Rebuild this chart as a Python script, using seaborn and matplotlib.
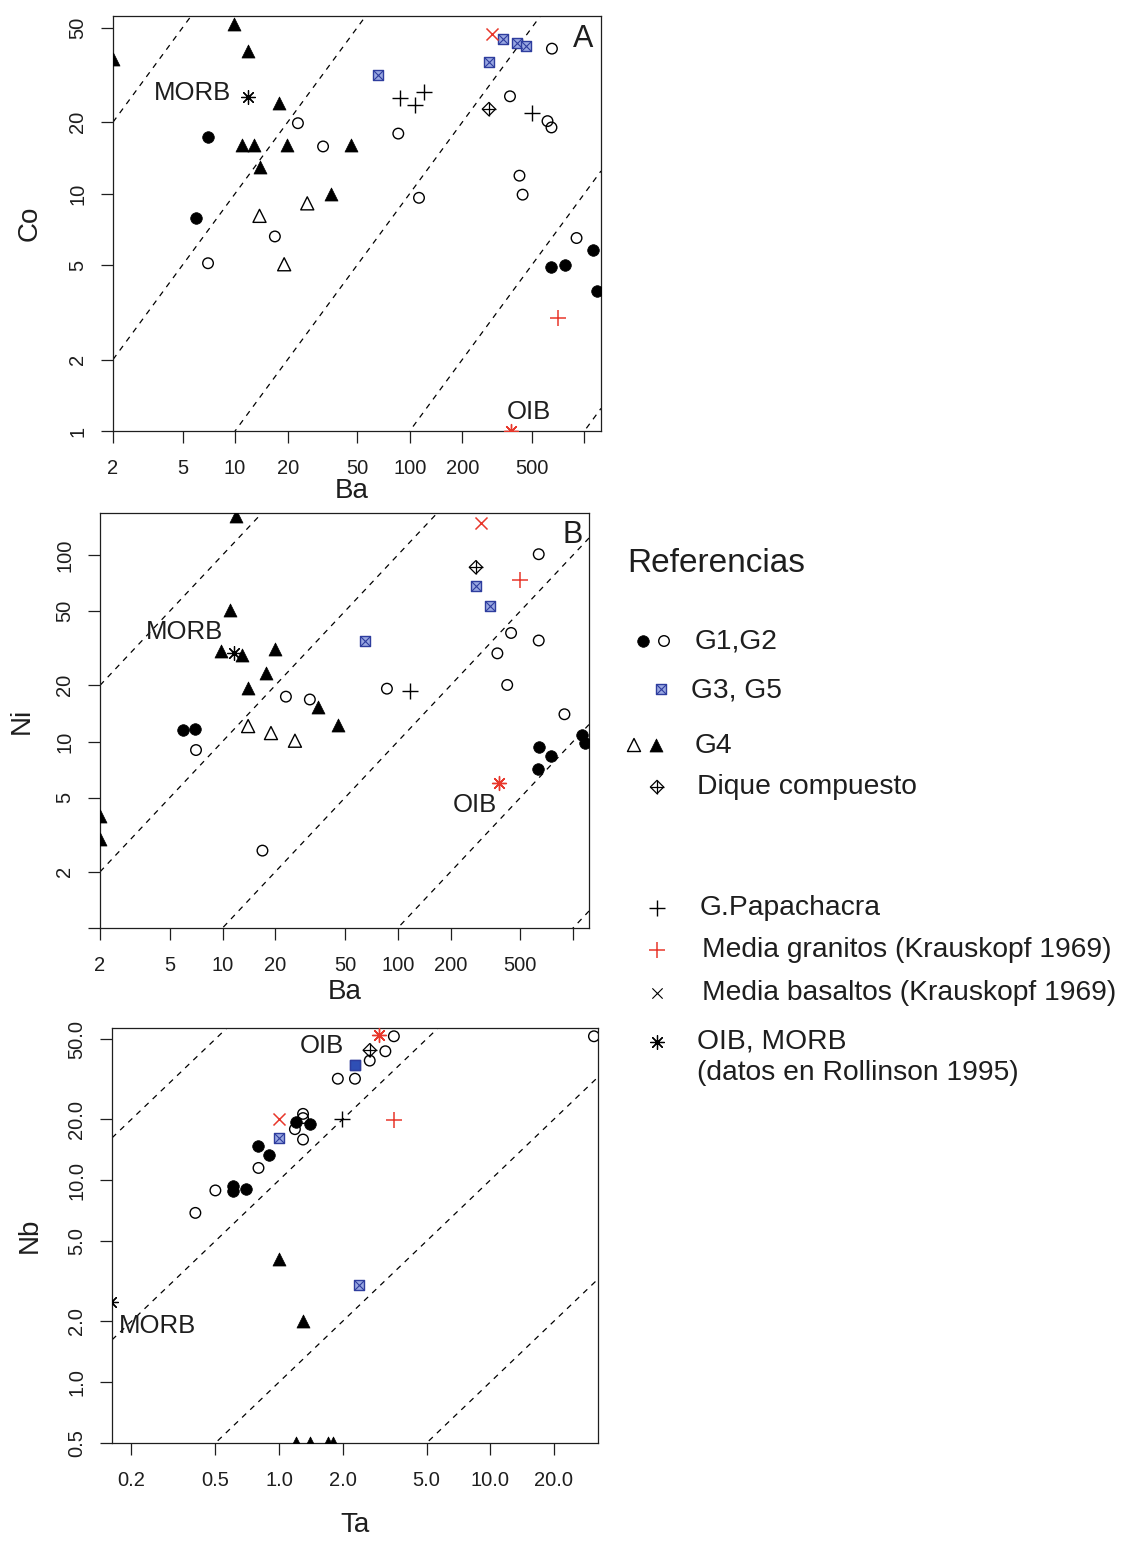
import numpy as np
import pandas as pd
import matplotlib
matplotlib.use("Agg")
import matplotlib.pyplot as plt
from matplotlib.ticker import NullLocator
import seaborn as sns

# ---------------- DATA ----------------
# Panel A: Ba (x) vs Co (y)
A_g1_x = [6.98, 5.97, 641, 771, 1122, 1183]
A_g1_y = [17.4, 7.9, 4.93, 5.0, 5.8, 3.9]
A_g2_x = [22.9, 31.9, 86, 113, 16.9, 7.0, 652, 375, 615, 648, 425, 443, 902]
A_g2_y = [19.8, 15.8, 17.9, 9.6, 6.6, 5.09, 40.8, 25.7, 20.2, 19.0, 11.9, 9.9, 6.5]
A_g35_x = [65.9, 341, 410, 461, 284]
A_g35_y = [31.6, 45, 42.9, 41.9, 35.9]
A_g4o_x = [13.8, 25.9, 19.1]
A_g4o_y = [8.06, 9.1, 5.04]
A_g4f_x = [9.9, 2.0, 11.9, 17.9, 11.0, 12.9, 19.9, 45.9, 13.8, 35.4]
A_g4f_y = [52, 36.8, 40, 24, 16.0, 16.0, 16.0, 16.0, 13.0, 10.0]
A_dique_x = [284]
A_dique_y = [22.7]
A_papa_x = [88, 107, 120, 499]
A_papa_y = [25.3, 23.7, 26.7, 21.8]
A_gran_x = [702]
A_gran_y = [2.98]
A_bas_x = [297]
A_bas_y = [47.2]
A_oib_x = [380]
A_oib_y = [1.0]
A_morb_x = [11.8]
A_morb_y = [25.6]

# Panel B: Ba (x) vs Ni (y)
B_g1_x = [5.96, 6.95, 1125, 1172, 637, 750, 634]
B_g1_y = [11.5, 11.7, 10.8, 9.8, 9.4, 8.4, 7.08]
B_g2_x = [637, 443, 637, 370, 421, 86.7, 23.0, 31.5, 893, 7.06, 16.9]
B_g2_y = [101, 38.2, 34.8, 29.7, 20.1, 19.2, 17.4, 16.8, 14.0, 9.0, 2.6]
B_g35_x = [279, 337, 64.7]
B_g35_y = [68.5, 53.5, 34.8]
B_g4o_x = [14.0, 18.9, 25.9]
B_g4o_y = [12.1, 11.1, 10.1]
B_g4f_x = [12.0, 10.97, 9.85, 12.99, 19.9, 17.7, 14.0, 34.9, 45.8, 2.0, 2.0]
B_g4f_y = [162, 50.9, 30.4, 29.1, 31.4, 23.2, 19.3, 15.3, 12.2, 4.0, 3.0]
B_dique_x = [279]
B_dique_y = [86]
B_papa_x = [118]
B_papa_y = [18.7]
B_gran_x = [495]
B_gran_y = [73.8]
B_bas_x = [298]
B_bas_y = [148]
B_oib_x = [376]
B_oib_y = [5.98]
B_morb_x = [11.7]
B_morb_y = [29.7]

# Panel C: Ta (x) vs Nb (y)
C_g1_x = [1.20, 1.40, 0.80, 0.90, 0.605, 0.605, 0.70]
C_g1_y = [19.4, 18.9, 14.7, 13.4, 9.34, 8.82, 9.09]
C_g2_x = [3.50, 31, 3.19, 2.69, 1.90, 2.29, 1.30, 1.30, 1.19, 1.30, 0.80, 0.5, 0.402]
C_g2_y = [51.6, 51.6, 43.5, 39.1, 31.8, 31.8, 21.3, 20.3, 17.9, 15.9, 11.5, 8.9, 6.89]
C_g35_x = [2.29, 1.0, 2.39]
C_g35_y = [37.1, 16.2, 3.02]
C_g4o_x = []
C_g4o_y = []
C_g4f_x = [1.0, 1.30, 1.20, 1.40, 1.71, 1.80]
C_g4f_y = [4.08, 2.02, 0.5, 0.5, 0.5, 0.5]
C_dique_x = [2.69]
C_dique_y = [44]
C_papa_x = [1.99]
C_papa_y = [20]
C_gran_x = [3.5]
C_gran_y = [19.8]
C_bas_x = [1.0]
C_bas_y = [20]
C_oib_x = [2.99]
C_oib_y = [52.6]
C_morb_x = [0.16]
C_morb_y = [2.5]

# reference ratio lines (y/x)
A_ratios = [10, 1, 0.1, 0.01, 0.001]
B_ratios = [10, 1, 0.1, 0.01, 0.001]
C_ratios = [100, 10, 1, 0.1]

# axis ticks
A_xticks = [2, 5, 10, 20, 50, 100, 200, 500, 1000]
A_xticklabels = ["2", "5", "10", "20", "50", "100", "200", "500", ""]
A_yticks = [1, 2, 5, 10, 20, 50]
A_yticklabels = ["1", "2", "5", "10", "20", "50"]
B_xticks = A_xticks
B_xticklabels = A_xticklabels
B_yticks = [1, 2, 5, 10, 20, 50, 100]
B_yticklabels = ["", "2", "5", "10", "20", "50", "100"]
C_xticks = [0.2, 0.5, 1.0, 2.0, 5.0, 10.0, 20.0]
C_xticklabels = ["0.2", "0.5", "1.0", "2.0", "5.0", "10.0", "20.0"]
C_yticks = [0.5, 1.0, 2.0, 5.0, 10.0, 20.0, 50.0]
C_yticklabels = ["0.5", "1.0", "2.0", "5.0", "10.0", "20.0", "50.0"]

LEGEND_TITLE = "Referencias"
LEGEND_LABELS = ["G1,G2", "G3, G5", "G4", "Dique compuesto", "G.Papachacra",
                 "Media granitos (Krauskopf 1969)", "Media basaltos (Krauskopf 1969)",
                 "OIB, MORB\n(datos en Rollinson 1995)"]

# ---------------- STYLE ----------------
sns.set_theme(style="ticks")
plt.rcParams["font.family"] = ["Liberation Sans", "DejaVu Sans"]
plt.rcParams["axes.linewidth"] = 0.9
plt.rcParams["xtick.major.width"] = 0.9
plt.rcParams["ytick.major.width"] = 0.9

RED = "#e8372b"
BLUE = "#2e3d9e"
BLUEFACE = "#9aa8e2"
ASTER = (8, 2, 0)
INK = "#1e1e1e"

STY = {
    "g1": dict(marker="o", s=70, color="black", edgecolor="black", linewidth=0.5),
    "g2": dict(marker="o", s=58, color="black", facecolor="none", edgecolor="black", linewidth=1.0),
    "g4o": dict(marker="^", s=88, color="black", facecolor="none", edgecolor="black", linewidth=1.0),
    "g4f": dict(marker="^", s=88, color="black", edgecolor="black", linewidth=0.5),
    "papa": dict(marker="+", s=120, color="black", linewidth=1.0),
    "gran": dict(marker="+", s=120, color=RED, linewidth=1.1),
    "bas": dict(marker="x", s=75, color=RED, linewidth=1.1),
    "oib": dict(marker=ASTER, s=100, color=RED, linewidth=1.0),
    "morb": dict(marker=ASTER, s=100, color="black", linewidth=0.9),
}


def scat(ax, x, y, key):
    if len(x) == 0:
        return
    sns.scatterplot(x=x, y=y, ax=ax, legend=False, zorder=3, **STY[key])


def square_x(ax, x, y, s=56):
    if len(x) == 0:
        return
    sns.scatterplot(x=x, y=y, ax=ax, legend=False, marker="s", s=s, color=BLUEFACE,
                    facecolor=BLUEFACE, edgecolor=BLUE, linewidth=1.0, zorder=3)
    sns.scatterplot(x=x, y=y, ax=ax, legend=False, marker="x", s=s, color=BLUE,
                    linewidth=0.8, zorder=4)


def diamond_plus(ax, x, y, s=46):
    if len(x) == 0:
        return
    sns.scatterplot(x=x, y=y, ax=ax, legend=False, marker="D", s=s, color="black",
                    facecolor="none", edgecolor="black", linewidth=0.9, zorder=3)
    sns.scatterplot(x=x, y=y, ax=ax, legend=False, marker="+", s=2 * s, color="black",
                    linewidth=0.9, zorder=4)


def panel(ax, P, xlim, ylim, ratios, xt, xtl, yt, ytl, xlabel, ylabel):
    ax.set_xscale("log")
    ax.set_yscale("log")
    xs = np.array(xlim, dtype=float)
    for r in ratios:
        ax.plot(xs, r * xs, color="black", lw=0.9, ls=(0, (4.5, 4.5)), zorder=1)
    scat(ax, P["g2"][0], P["g2"][1], "g2")
    scat(ax, P["g1"][0], P["g1"][1], "g1")
    scat(ax, P["g4o"][0], P["g4o"][1], "g4o")
    scat(ax, P["g4f"][0], P["g4f"][1], "g4f")
    square_x(ax, P["g35"][0], P["g35"][1])
    diamond_plus(ax, P["dique"][0], P["dique"][1])
    scat(ax, P["papa"][0], P["papa"][1], "papa")
    scat(ax, P["gran"][0], P["gran"][1], "gran")
    scat(ax, P["bas"][0], P["bas"][1], "bas")
    scat(ax, P["oib"][0], P["oib"][1], "oib")
    scat(ax, P["morb"][0], P["morb"][1], "morb")
    ax.set_xlim(*xlim)
    ax.set_ylim(*ylim)
    ax.set_xticks(xt)
    ax.set_xticklabels(xtl)
    ax.set_yticks(yt)
    ax.set_yticklabels(ytl)
    ax.xaxis.set_minor_locator(NullLocator())
    ax.yaxis.set_minor_locator(NullLocator())
    ax.tick_params(axis="both", length=8.5, labelsize=14.5, color=INK,
                   labelcolor=INK, direction="out")
    ax.tick_params(axis="x", pad=12)
    ax.tick_params(axis="y", pad=10, labelrotation=90)
    for lab in ax.get_yticklabels():
        lab.set_va("center")
    for sp in ax.spines.values():
        sp.set_visible(True)
        sp.set_color(INK)
    ax.set_xlabel(xlabel, fontsize=20, color=INK, va="center")
    ax.set_ylabel(ylabel, fontsize=20, color=INK, va="center")


def pack(prefix):
    g = globals()
    keys = ["g1", "g2", "g35", "g4o", "g4f", "dique", "papa", "gran", "bas", "oib", "morb"]
    return {k: (g[f"{prefix}_{k}_x"], g[f"{prefix}_{k}_y"]) for k in keys}


W, H = 1121, 1541
fig = plt.figure(figsize=(W / 100, H / 100), dpi=100)
fig.patch.set_facecolor("white")


def add_ax(l, r, t, b):
    return fig.add_axes([l / W, 1 - b / H, (r - l) / W, (b - t) / H])


axA = add_ax(113, 601, 16, 431)
axB = add_ax(100, 589, 513, 928)
axC = add_ax(112, 598, 1028, 1443)

panel(axA, pack("A"), (2, 1245), (1, 56), A_ratios, A_xticks, A_xticklabels,
      A_yticks, A_yticklabels, "Ba", "Co")
panel(axB, pack("B"), (2, 1233), (1, 168), B_ratios, B_xticks, B_xticklabels,
      B_yticks, B_yticklabels, "Ba", "Ni")
panel(axC, pack("C"), (0.162, 32.4), (0.5, 56.7), C_ratios, C_xticks, C_xticklabels,
      C_yticks, C_yticklabels, "Ta", "Nb")

# one darker, overlapping G3/G5 square in C
sns.scatterplot(x=C_g35_x[:1], y=C_g35_y[:1], ax=axC, legend=False, marker="s", s=56,
                color="#2f4fb5", edgecolor=BLUE, linewidth=1.0, zorder=5)

axA.xaxis.set_label_coords(0.49, -0.145)
axA.yaxis.set_label_coords(-0.17, 0.5)
axB.xaxis.set_label_coords(0.5, -0.154)
axB.yaxis.set_label_coords(-0.16, 0.5)
axC.xaxis.set_label_coords(0.5, -0.198)
axC.yaxis.set_label_coords(-0.169, 0.5)

TXT = dict(fontsize=18.5, color=INK)
axA.text(9.5, 26.5, "MORB", ha="right", va="center", **TXT)
axA.text(361, 1.2, "OIB", ha="left", va="center", **TXT)
axA.text(0.963, 0.945, "A", transform=axA.transAxes, ha="center", va="center",
         fontsize=22, color=INK)
axB.text(10.1, 38.5, "MORB", ha="right", va="center", **TXT)
axB.text(370, 4.55, "OIB", ha="right", va="center", **TXT)
axB.text(0.967, 0.947, "B", transform=axB.transAxes, ha="center", va="center",
         fontsize=22, color=INK)
axC.text(2.03, 46.4, "OIB", ha="right", va="center", **TXT)
axC.text(0.174, 1.9, "MORB", ha="left", va="center", **TXT)

# ---------------- LEGEND (manual, figure pixel space) ----------------
lax = fig.add_axes([0, 0, 1, 1])
lax.set_xlim(0, W)
lax.set_ylim(H, 0)
lax.axis("off")
lax.patch.set_alpha(0)

LT = dict(fontsize=20.3, color=INK, ha="left", va="center")
lax.text(627, 563, LEGEND_TITLE, fontsize=24, color=INK, ha="left", va="center")

sns.scatterplot(x=[643], y=[641], ax=lax, legend=False, **STY["g1"])
sns.scatterplot(x=[664], y=[641], ax=lax, legend=False, **STY["g2"])
lax.text(695, 641, LEGEND_LABELS[0], **LT)

square_x(lax, [661], [689])
lax.text(691, 690, LEGEND_LABELS[1], **LT)

sns.scatterplot(x=[634], y=[745], ax=lax, legend=False, **STY["g4o"])
sns.scatterplot(x=[656], y=[745], ax=lax, legend=False, **STY["g4f"])
lax.text(695, 746, LEGEND_LABELS[2], **LT)

diamond_plus(lax, [657], [787])
lax.text(697, 787, LEGEND_LABELS[3], **LT)

sns.scatterplot(x=[657], y=[908], ax=lax, legend=False, **STY["papa"])
lax.text(700, 908, LEGEND_LABELS[4], **LT)

sns.scatterplot(x=[657], y=[950], ax=lax, legend=False, **STY["gran"])
lax.text(702, 950, LEGEND_LABELS[5], **LT)

leg_x = dict(STY["bas"])
leg_x["color"] = "black"
leg_x["linewidth"] = 0.8
leg_x["s"] = 55
sns.scatterplot(x=[657], y=[993], ax=lax, legend=False, **leg_x)
lax.text(702, 993, LEGEND_LABELS[6], **LT)

sns.scatterplot(x=[657], y=[1042], ax=lax, legend=False, **STY["morb"])
lax.text(697, 1057, LEGEND_LABELS[7], linespacing=1.25, **LT)

fig.savefig("out.png", dpi=100, facecolor="white")
